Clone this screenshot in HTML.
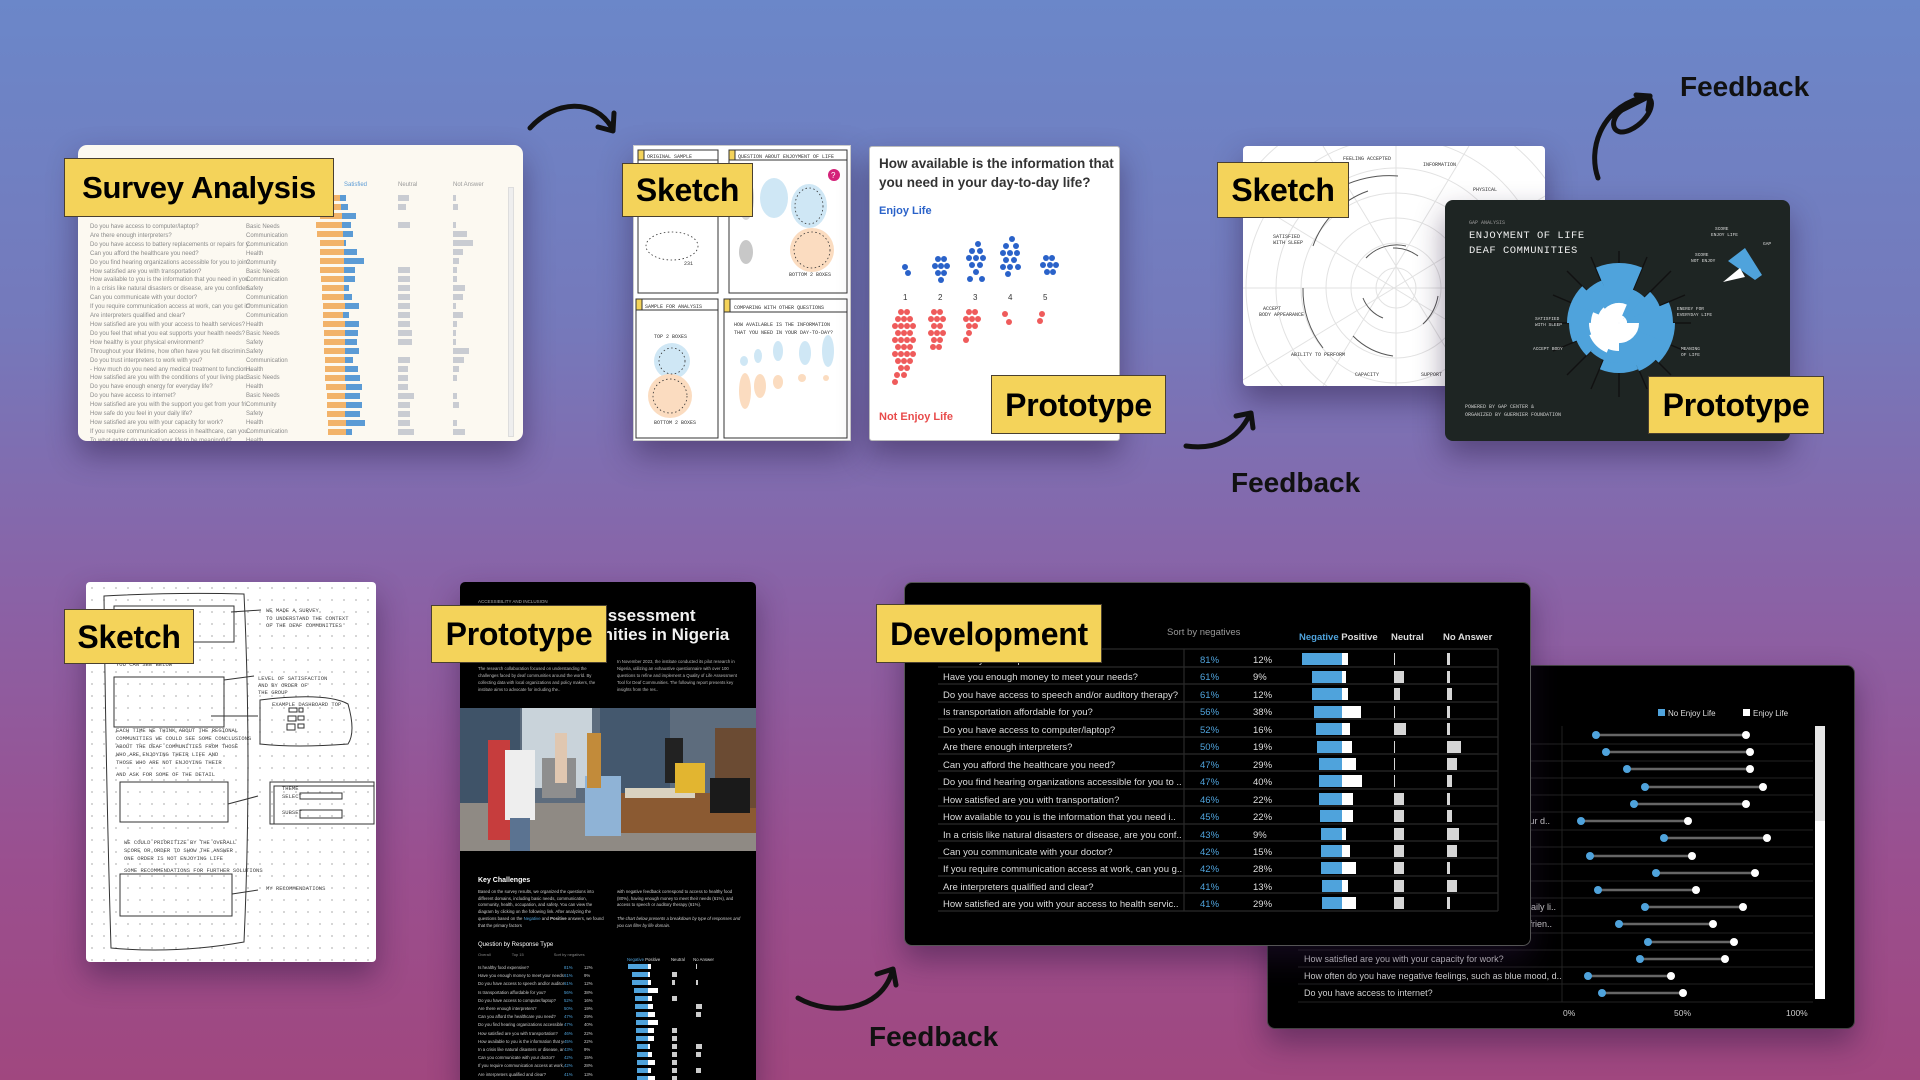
<!DOCTYPE html>
<html><head><meta charset="utf-8">
<style>
*{margin:0;padding:0;box-sizing:border-box}
html{width:1920px;height:1080px;overflow:hidden;background:#9a4f8f}
body{width:1920px;height:1080px;overflow:hidden;position:relative;font-family:"Liberation Sans",sans-serif;
background:linear-gradient(180deg,#6b87c9 0%,#7579bb 30%,#8a62a6 55%,#9a4f8f 80%,#a0477f 100%) no-repeat;background-size:1920px 1080px}
.card{position:absolute;overflow:hidden;box-shadow:0 14px 30px rgba(40,20,60,.45)}
.lbl{position:absolute;background:#f4d35a;border:1.5px solid #4a4030;color:#000;font-weight:bold;font-size:32px;line-height:1;display:flex;align-items:center;justify-content:center;z-index:20;letter-spacing:-0.3px}
.fb{position:absolute;font-weight:bold;font-size:28px;color:#111;z-index:20}
.abs{position:absolute}
.sv div{position:absolute;white-space:nowrap}
.q{font-size:6px;color:#8a8a8a}
.dv{position:absolute;white-space:nowrap}
</style></head><body>

<!-- ARROWS -->
<svg class="abs" style="left:0;top:0;z-index:15" width="1920" height="1080">
 <g fill="none" stroke="#111" stroke-width="5" stroke-linecap="round" stroke-linejoin="round">
  <path d="M530 128 C555 100 595 98 612 128"/><path d="M598 127 L613 131 L614 113"/>
  <path d="M1186 446 C1215 450 1238 440 1250 414"/><path d="M1236 416 L1251 413 L1253 428"/>
  <path d="M1598 178 C1588 150 1600 110 1640 98 C1660 92 1652 120 1630 130 C1612 138 1608 120 1622 110 L1650 96"/><path d="M1636 95 L1650 96 L1648 110"/>
  <path d="M798 998 C830 1016 880 1012 892 972"/><path d="M877 974 L893 969 L896 985"/>
 </g>
</svg>
<div class="fb" style="left:1680px;top:71px">Feedback</div>
<div class="fb" style="left:1231px;top:467px">Feedback</div>
<div class="fb" style="left:869px;top:1021px">Feedback</div>

<!-- SURVEY ANALYSIS CARD -->
<div class="card sv" style="left:78px;top:145px;width:445px;height:296px;background:#fcf9f1;border-radius:9px">
 <div style="left:266px;top:37px;font-size:6px;color:#5b9bd5">Satisfied</div>
 <div style="left:320px;top:37px;font-size:6px;color:#999">Neutral</div>
 <div style="left:375px;top:37px;font-size:6px;color:#999">Not Answer</div>
 <div style="left:430px;top:42px;width:6px;height:250px;background:#eee;border:1px solid #ddd"></div>
 <div style="left:12px;top:78px;line-height:8.9px" class="q">Do you have access to computer/laptop?<br>Are there enough interpreters?<br>Do you have access to battery replacements or repairs for y..<br>Can you afford the healthcare you need?<br>Do you find hearing organizations accessible for you to join?..<br>How satisfied are you with transportation?<br>How available to you is the information that you need in you..<br>In a crisis like natural disasters or disease, are you confiden..<br>Can you communicate with your doctor?<br>If you require communication access at work, can you get it?<br>Are interpreters qualified and clear?<br>How satisfied are you with your access to health services?<br>Do you feel that what you eat supports your health needs?<br>How healthy is your physical environment?<br>Throughout your lifetime, how often have you felt discrimin..<br>Do you trust interpreters to work with you?<br>- How much do you need any medical treatment to function i..<br>How satisfied are you with the conditions of your living plac..<br>Do you have enough energy for everyday life?<br>Do you have access to internet?<br>How satisfied are you with the support you get from your fri..<br>How safe do you feel in your daily life?<br>How satisfied are you with your capacity for work?<br>If you require communication access in healthcare, can you..<br>To what extent do you feel your life to be meaningful?</div>
 <div style="left:168px;top:78px;line-height:8.9px" class="q">Basic Needs<br>Communication<br>Communication<br>Health<br>Community<br>Basic Needs<br>Communication<br>Safety<br>Communication<br>Communication<br>Communication<br>Health<br>Basic Needs<br>Safety<br>Safety<br>Communication<br>Health<br>Basic Needs<br>Health<br>Basic Needs<br>Community<br>Safety<br>Health<br>Communication<br>Health</div>
 <svg class="abs" style="left:0;top:0" width="445" height="296">
  <rect x="240" y="50" width="22" height="6" fill="#f2b36a"/><rect x="262" y="50" width="6" height="6" fill="#5b9bd5"/>
  <rect x="241" y="59" width="22" height="6" fill="#f2b36a"/><rect x="263" y="59" width="7" height="6" fill="#5b9bd5"/>
  <rect x="242" y="68" width="22" height="6" fill="#f2b36a"/><rect x="264" y="68" width="14" height="6" fill="#5b9bd5"/>
  <g fill="#f2b36a">
   <rect x="238" y="77" width="26" height="6"/><rect x="239" y="86" width="26" height="6"/><rect x="242" y="95" width="24" height="6"/><rect x="242" y="104" width="24" height="6"/><rect x="242" y="113" width="24" height="6"/><rect x="242" y="122" width="24" height="6"/><rect x="243" y="131" width="23" height="6"/><rect x="244" y="140" width="22" height="6"/><rect x="244" y="149" width="22" height="6"/><rect x="245" y="158" width="22" height="6"/><rect x="245" y="167" width="20" height="6"/><rect x="245" y="176" width="22" height="6"/><rect x="246" y="185" width="21" height="6"/><rect x="246" y="194" width="21" height="6"/><rect x="246" y="203" width="21" height="6"/><rect x="247" y="212" width="20" height="6"/><rect x="247" y="221" width="20" height="6"/><rect x="247" y="230" width="20" height="6"/><rect x="248" y="239" width="20" height="6"/><rect x="249" y="248" width="18" height="6"/><rect x="249" y="257" width="19" height="6"/><rect x="249" y="266" width="18" height="6"/><rect x="250" y="275" width="18" height="6"/><rect x="250" y="284" width="18" height="6"/>
  </g>
  <g fill="#5b9bd5">
   <rect x="264" y="77" width="9" height="6"/><rect x="265" y="86" width="10" height="6"/><rect x="266" y="95" width="2" height="6"/><rect x="266" y="104" width="13" height="6"/><rect x="266" y="113" width="20" height="6"/><rect x="266" y="122" width="11" height="6"/><rect x="266" y="131" width="11" height="6"/><rect x="266" y="140" width="5" height="6"/><rect x="266" y="149" width="8" height="6"/><rect x="267" y="158" width="14" height="6"/><rect x="265" y="167" width="6" height="6"/><rect x="267" y="176" width="14" height="6"/><rect x="267" y="185" width="13" height="6"/><rect x="267" y="194" width="12" height="6"/><rect x="267" y="203" width="14" height="6"/><rect x="267" y="212" width="8" height="6"/><rect x="267" y="221" width="13" height="6"/><rect x="267" y="230" width="15" height="6"/><rect x="268" y="239" width="16" height="6"/><rect x="267" y="248" width="15" height="6"/><rect x="268" y="257" width="16" height="6"/><rect x="267" y="266" width="15" height="6"/><rect x="268" y="275" width="19" height="6"/><rect x="268" y="284" width="6" height="6"/>
  </g>
  <g fill="#c9ccd2">
   <rect x="320" y="50" width="11" height="6"/><rect x="320" y="59" width="8" height="6"/><rect x="320" y="77" width="12" height="6"/><rect x="320" y="122" width="12" height="6"/><rect x="320" y="131" width="12" height="6"/><rect x="320" y="140" width="12" height="6"/><rect x="320" y="149" width="12" height="6"/><rect x="320" y="158" width="12" height="6"/><rect x="320" y="167" width="12" height="6"/><rect x="320" y="176" width="12" height="6"/><rect x="320" y="185" width="14" height="6"/><rect x="320" y="194" width="14" height="6"/><rect x="320" y="212" width="12" height="6"/><rect x="320" y="221" width="10" height="6"/><rect x="320" y="230" width="10" height="6"/><rect x="320" y="239" width="10" height="6"/><rect x="320" y="248" width="16" height="6"/><rect x="320" y="257" width="12" height="6"/><rect x="320" y="266" width="12" height="6"/><rect x="320" y="275" width="12" height="6"/><rect x="320" y="284" width="16" height="6"/>
   <rect x="375" y="50" width="3" height="6"/><rect x="375" y="59" width="5" height="6"/><rect x="375" y="77" width="3" height="6"/><rect x="375" y="86" width="14" height="6"/><rect x="375" y="95" width="20" height="6"/><rect x="375" y="104" width="10" height="6"/><rect x="375" y="113" width="6" height="6"/><rect x="375" y="122" width="4" height="6"/><rect x="375" y="131" width="4" height="6"/><rect x="375" y="140" width="12" height="6"/><rect x="375" y="149" width="10" height="6"/><rect x="375" y="158" width="3" height="6"/><rect x="375" y="167" width="10" height="6"/><rect x="375" y="176" width="4" height="6"/><rect x="375" y="185" width="3" height="6"/><rect x="375" y="194" width="3" height="6"/><rect x="375" y="203" width="16" height="6"/><rect x="375" y="212" width="11" height="6"/><rect x="375" y="221" width="6" height="6"/><rect x="375" y="230" width="4" height="6"/><rect x="375" y="248" width="4" height="6"/><rect x="375" y="257" width="6" height="6"/><rect x="375" y="275" width="4" height="6"/><rect x="375" y="284" width="12" height="6"/>
  </g>
 </svg>
</div>
<div class="lbl" style="left:64px;top:158px;width:270px;height:59px;font-size:31px">Survey Analysis</div>

<!-- SKETCH 4-PANEL -->
<div class="card" style="left:633px;top:145px;width:218px;height:296px;background:#fff;border:1px solid #ccc">
 <svg width="218" height="296" style="position:absolute;left:0;top:0">
  <g fill="none" stroke="#333" stroke-width="1">
   <rect x="4" y="4" width="80" height="143"/><rect x="95" y="4" width="118" height="143"/>
   <rect x="2" y="153" width="82" height="139"/><rect x="90" y="153" width="123" height="139"/>
   <line x1="4" y1="14" x2="84" y2="14"/><line x1="95" y1="14" x2="213" y2="14"/><line x1="2" y1="164" x2="84" y2="164"/><line x1="90" y1="166" x2="213" y2="166"/>
  </g>
  <g fill="#f4d35a" stroke="#333"><rect x="4" y="4" width="6" height="10"/><rect x="95" y="4" width="6" height="10"/><rect x="2" y="153" width="6" height="11"/><rect x="90" y="153" width="6" height="13"/></g>
  <g font-size="5" fill="#333" font-family="Liberation Mono"><text x="13" y="12">ORIGINAL SAMPLE</text><text x="104" y="12">QUESTION ABOUT ENJOYMENT OF LIFE</text><text x="11" y="162">SAMPLE FOR ANALYSIS</text><text x="100" y="163">COMPARING WITH OTHER QUESTIONS</text><text x="100" y="180">HOW AVAILABLE IS THE INFORMATION</text><text x="100" y="188">THAT YOU NEED IN YOUR DAY-TO-DAY?</text><text x="20" y="192">TOP 2 BOXES</text><text x="20" y="278">BOTTOM 2 BOXES</text><text x="155" y="130">BOTTOM 2 BOXES</text><text x="50" y="119">231</text></g>
  <ellipse cx="140" cy="52" rx="14" ry="20" fill="#cfe7f5"/>
  <ellipse cx="175" cy="60" rx="18" ry="22" fill="#cfe7f5"/><ellipse cx="178" cy="104" rx="22" ry="22" fill="#fbdcc0"/>
  <ellipse cx="112" cy="52" rx="8" ry="22" fill="#d6d6d6"/><ellipse cx="112" cy="106" rx="7" ry="12" fill="#c8c8c8"/>
  <ellipse cx="38" cy="215" rx="18" ry="18" fill="#cfe7f5"/><ellipse cx="36" cy="250" rx="22" ry="22" fill="#fbdcc0"/>
  <g fill="#cfe7f5"><ellipse cx="110" cy="215" rx="4" ry="5"/><ellipse cx="124" cy="210" rx="4" ry="7"/><ellipse cx="144" cy="205" rx="5" ry="10"/><ellipse cx="171" cy="207" rx="6" ry="12"/><ellipse cx="194" cy="205" rx="6" ry="16"/></g>
  <g fill="#fbdcc0"><ellipse cx="111" cy="245" rx="6" ry="18"/><ellipse cx="126" cy="240" rx="6" ry="12"/><ellipse cx="144" cy="236" rx="5" ry="7"/><ellipse cx="168" cy="232" rx="4" ry="4"/><ellipse cx="192" cy="232" rx="3" ry="3"/></g>
  <g fill="none" stroke="#333" stroke-width=".8" stroke-dasharray="1.5 2.5"><ellipse cx="38" cy="100" rx="26" ry="14"/><ellipse cx="175" cy="60" rx="14" ry="18"/><ellipse cx="178" cy="104" rx="18" ry="18"/><ellipse cx="38" cy="215" rx="13" ry="13"/><ellipse cx="36" cy="250" rx="17" ry="17"/></g>
  <circle cx="200" cy="29" r="6" fill="#d4237a"/><text x="197" y="32" font-size="8" fill="#fff">?</text>
 </svg>
</div>
<div class="lbl" style="left:622px;top:163px;width:131px;height:54px">Sketch</div>

<!-- PROTOTYPE DOT PLOT -->
<div class="card" style="left:869px;top:146px;width:251px;height:295px;background:#fff;border:1px solid #bbb;border-radius:3px">
 <div class="abs" style="left:9px;top:7px;font-size:13.5px;color:#333;line-height:19px;font-weight:bold;width:240px">How available is the information that you need in your day-to-day life?</div>
 <div class="abs" style="left:9px;top:58px;font-size:11px;color:#2a62c9;font-weight:bold">Enjoy Life</div>
 <div class="abs" style="left:9px;top:264px;font-size:11px;color:#e84b4b;font-weight:bold">Not Enjoy Life</div>
 <svg width="251" height="295" style="position:absolute;left:0;top:0">
  <g fill="#2a62c9">
   <circle cx="35" cy="120" r="3"/><circle cx="38" cy="126" r="3"/>
   <circle cx="68" cy="112" r="3"/><circle cx="74" cy="112" r="3"/><circle cx="65" cy="119" r="3"/><circle cx="71" cy="119" r="3"/><circle cx="77" cy="119" r="3"/><circle cx="68" cy="126" r="3"/><circle cx="74" cy="126" r="3"/><circle cx="71" cy="133" r="3"/>
   <circle cx="108" cy="97" r="3"/><circle cx="102" cy="104" r="3"/><circle cx="110" cy="104" r="3"/><circle cx="99" cy="111" r="3"/><circle cx="106" cy="111" r="3"/><circle cx="113" cy="111" r="3"/><circle cx="102" cy="118" r="3"/><circle cx="110" cy="118" r="3"/><circle cx="106" cy="125" r="3"/><circle cx="100" cy="132" r="3"/><circle cx="112" cy="132" r="3"/>
   <circle cx="142" cy="92" r="3"/><circle cx="136" cy="99" r="3"/><circle cx="146" cy="99" r="3"/><circle cx="133" cy="106" r="3"/><circle cx="140" cy="106" r="3"/><circle cx="147" cy="106" r="3"/><circle cx="136" cy="113" r="3"/><circle cx="144" cy="113" r="3"/><circle cx="133" cy="120" r="3"/><circle cx="140" cy="120" r="3"/><circle cx="148" cy="120" r="3"/><circle cx="138" cy="127" r="3"/>
   <circle cx="176" cy="111" r="3"/><circle cx="182" cy="111" r="3"/><circle cx="173" cy="118" r="3"/><circle cx="180" cy="118" r="3"/><circle cx="186" cy="118" r="3"/><circle cx="177" cy="125" r="3"/><circle cx="183" cy="125" r="3"/>
  </g>
  <g font-size="8" fill="#333"><text x="33" y="153">1</text><text x="68" y="153">2</text><text x="103" y="153">3</text><text x="138" y="153">4</text><text x="173" y="153">5</text></g>
  <g fill="#ef5b5b">
   <circle cx="31" cy="165" r="3"/><circle cx="37" cy="165" r="3"/><circle cx="28" cy="172" r="3"/><circle cx="34" cy="172" r="3"/><circle cx="40" cy="172" r="3"/><circle cx="25" cy="179" r="3"/><circle cx="31" cy="179" r="3"/><circle cx="37" cy="179" r="3"/><circle cx="43" cy="179" r="3"/><circle cx="28" cy="186" r="3"/><circle cx="34" cy="186" r="3"/><circle cx="40" cy="186" r="3"/><circle cx="25" cy="193" r="3"/><circle cx="31" cy="193" r="3"/><circle cx="37" cy="193" r="3"/><circle cx="43" cy="193" r="3"/><circle cx="28" cy="200" r="3"/><circle cx="34" cy="200" r="3"/><circle cx="40" cy="200" r="3"/><circle cx="25" cy="207" r="3"/><circle cx="31" cy="207" r="3"/><circle cx="37" cy="207" r="3"/><circle cx="43" cy="207" r="3"/><circle cx="28" cy="214" r="3"/><circle cx="34" cy="214" r="3"/><circle cx="40" cy="214" r="3"/><circle cx="31" cy="221" r="3"/><circle cx="37" cy="221" r="3"/><circle cx="27" cy="228" r="3"/><circle cx="34" cy="228" r="3"/><circle cx="25" cy="235" r="3"/>
   <circle cx="64" cy="165" r="3"/><circle cx="70" cy="165" r="3"/><circle cx="61" cy="172" r="3"/><circle cx="67" cy="172" r="3"/><circle cx="73" cy="172" r="3"/><circle cx="64" cy="179" r="3"/><circle cx="70" cy="179" r="3"/><circle cx="61" cy="186" r="3"/><circle cx="67" cy="186" r="3"/><circle cx="73" cy="186" r="3"/><circle cx="64" cy="193" r="3"/><circle cx="70" cy="193" r="3"/><circle cx="63" cy="200" r="3"/><circle cx="69" cy="200" r="3"/>
   <circle cx="99" cy="165" r="3"/><circle cx="105" cy="165" r="3"/><circle cx="96" cy="172" r="3"/><circle cx="102" cy="172" r="3"/><circle cx="108" cy="172" r="3"/><circle cx="99" cy="179" r="3"/><circle cx="105" cy="179" r="3"/><circle cx="99" cy="186" r="3"/><circle cx="96" cy="193" r="3"/>
   <circle cx="135" cy="167" r="3"/><circle cx="139" cy="175" r="3"/><circle cx="172" cy="167" r="3"/><circle cx="170" cy="174" r="3"/>
  </g>
 </svg>
</div>
<div class="lbl" style="left:991px;top:375px;width:175px;height:59px">Prototype</div>

<!-- POLAR SKETCH -->
<div class="card" style="left:1243px;top:146px;width:302px;height:240px;background:#fff;border-radius:4px">
 <svg width="302" height="240" style="position:absolute;left:0;top:0">
  <g fill="none" stroke="#e2e2e2" stroke-width="1">
   <circle cx="153" cy="142" r="20"/><circle cx="153" cy="142" r="45"/><circle cx="153" cy="142" r="70"/><circle cx="153" cy="142" r="95"/><circle cx="153" cy="142" r="120"/><circle cx="153" cy="142" r="150"/><circle cx="153" cy="142" r="185"/>
   <line x1="153" y1="0" x2="153" y2="240"/><line x1="0" y1="142" x2="302" y2="142"/><line x1="0" y1="50" x2="302" y2="234"/><line x1="0" y1="234" x2="302" y2="50"/><line x1="80" y1="0" x2="226" y2="240"/><line x1="226" y1="0" x2="80" y2="240"/>
  </g>
  <g fill="none" stroke="#555" stroke-width="1">
   <path d="M153 142 m-30 -30 a42 42 0 0 1 40 -12"/><path d="M70 100 a90 90 0 0 1 55 -55"/><path d="M60 142 a93 93 0 0 0 20 60"/><path d="M110 190 a70 70 0 0 0 40 20"/><path d="M180 178 a50 50 0 0 0 15 -28"/><path d="M150 102 a40 40 0 0 1 25 8"/><path d="M120 152 a35 35 0 0 0 20 20"/><path d="M100 40 a110 110 0 0 1 55 -10"/>
  </g>
  <g font-size="5" fill="#333" font-family="Liberation Mono"><text x="100" y="14">FEELING ACCEPTED</text><text x="180" y="20">INFORMATION</text><text x="230" y="45">PHYSICAL</text><text x="30" y="92">SATISFIED</text><text x="30" y="98">WITH SLEEP</text><text x="20" y="164">ACCEPT</text><text x="16" y="170">BODY APPEARANCE</text><text x="48" y="210">ABILITY TO PERFORM</text><text x="112" y="230">CAPACITY</text><text x="178" y="230">SUPPORT FROM</text></g>
 </svg>
</div>
<div class="lbl" style="left:1217px;top:162px;width:132px;height:56px">Sketch</div>

<!-- DARK POLAR PROTOTYPE -->
<div class="card" style="left:1445px;top:200px;width:345px;height:241px;background:#1e2523;border-radius:8px">
 <div class="abs" style="left:24px;top:20px;font-size:5px;color:#999;font-family:'Liberation Mono'">GAP ANALYSIS</div>
 <div class="abs" style="left:24px;top:29px;font-size:10.5px;color:#eee;font-family:'Liberation Mono';line-height:15px;letter-spacing:.5px">ENJOYMENT OF LIFE<br>DEAF COMMUNITIES</div>
 <div class="abs" style="left:20px;top:203px;font-size:5px;color:#ccc;font-family:'Liberation Mono';line-height:8px">POWERED BY GAP CENTER &amp;<br>ORGANIZED BY GUERNIER FOUNDATION</div>
 <svg width="345" height="241" style="position:absolute;left:0;top:0">
  <g transform="translate(174 123)">
   <g stroke="#111" stroke-width="1.4">
    <line x1="0" y1="-72" x2="0" y2="74"/><line x1="-70" y1="0" x2="72" y2="0"/><line x1="-52" y1="-52" x2="52" y2="52"/><line x1="52" y1="-52" x2="-52" y2="52"/><line x1="-28" y1="-66" x2="28" y2="66"/><line x1="28" y1="-66" x2="-28" y2="66"/><line x1="-66" y1="-28" x2="66" y2="28"/><line x1="66" y1="-28" x2="-66" y2="28"/>
   </g>
   <g fill="none" stroke="#4fa3dc">
    <circle r="18" stroke-width="36" stroke-dasharray="14.1 999" transform="rotate(-90)"/>
    <circle r="18" stroke-width="36" stroke-dasharray="14.1 999" transform="rotate(-67.5)"/>
    <circle r="22" stroke-width="44" stroke-dasharray="17.3 999" transform="rotate(-45)"/>
    <circle r="27" stroke-width="54" stroke-dasharray="21.2 999" transform="rotate(-22.5)"/>
    <circle r="28" stroke-width="56" stroke-dasharray="22 999" transform="rotate(0)"/>
    <circle r="26" stroke-width="52" stroke-dasharray="20.4 999" transform="rotate(22.5)"/>
    <circle r="23" stroke-width="46" stroke-dasharray="18.1 999" transform="rotate(45)"/>
    <circle r="25" stroke-width="50" stroke-dasharray="19.6 999" transform="rotate(67.5)"/>
    <circle r="20" stroke-width="40" stroke-dasharray="15.7 999" transform="rotate(90)"/>
    <circle r="19" stroke-width="38" stroke-dasharray="14.9 999" transform="rotate(112.5)"/>
    <circle r="23" stroke-width="46" stroke-dasharray="18.1 999" transform="rotate(135)"/>
    <circle r="25" stroke-width="50" stroke-dasharray="19.6 999" transform="rotate(157.5)"/>
    <circle r="26" stroke-width="52" stroke-dasharray="20.4 999" transform="rotate(180)"/>
    <circle r="23" stroke-width="46" stroke-dasharray="18.1 999" transform="rotate(202.5)"/>
    <circle r="20" stroke-width="40" stroke-dasharray="15.7 999" transform="rotate(225)"/>
    <circle r="30" stroke-width="60" stroke-dasharray="23.6 999" transform="rotate(247.5)"/>
   </g>
   <g fill="none" stroke="#fff">
    <circle r="4" stroke-width="8" stroke-dasharray="3.1 999" transform="rotate(-90)"/>
    <circle r="3" stroke-width="6" stroke-dasharray="2.4 999" transform="rotate(-67.5)"/>
    <circle r="4" stroke-width="8" stroke-dasharray="3.1 999" transform="rotate(-45)"/>
    <circle r="4" stroke-width="8" stroke-dasharray="3.1 999" transform="rotate(-22.5)"/>
    <circle r="10" stroke-width="20" stroke-dasharray="7.9 999" transform="rotate(0)"/>
    <circle r="8" stroke-width="16" stroke-dasharray="6.3 999" transform="rotate(22.5)"/>
    <circle r="10" stroke-width="20" stroke-dasharray="7.9 999" transform="rotate(45)"/>
    <circle r="10" stroke-width="20" stroke-dasharray="7.9 999" transform="rotate(67.5)"/>
    <circle r="14" stroke-width="28" stroke-dasharray="11 999" transform="rotate(90)"/>
    <circle r="16" stroke-width="32" stroke-dasharray="12.6 999" transform="rotate(112.5)"/>
    <circle r="15" stroke-width="30" stroke-dasharray="11.8 999" transform="rotate(135)"/>
    <circle r="14" stroke-width="28" stroke-dasharray="11 999" transform="rotate(157.5)"/>
    <circle r="11" stroke-width="22" stroke-dasharray="8.6 999" transform="rotate(180)"/>
    <circle r="10" stroke-width="20" stroke-dasharray="7.9 999" transform="rotate(202.5)"/>
    <circle r="10" stroke-width="20" stroke-dasharray="7.9 999" transform="rotate(225)"/>
    <circle r="10" stroke-width="20" stroke-dasharray="7.9 999" transform="rotate(247.5)"/>
   </g>
  </g>
  <path d="M283 61 L300 48 L317 75 L310 80 Z" fill="#4fa3dc"/><path d="M278 82 L295 68 L300 77 Z" fill="#fff"/>
  <g font-size="4.5" fill="#ddd" font-family="Liberation Mono"><text x="270" y="30">SCORE</text><text x="266" y="36">ENJOY LIFE</text><text x="250" y="56">SCORE</text><text x="246" y="62">NOT ENJOY</text><text x="318" y="45">GAP</text><text x="232" y="110">ENERGY FOR</text><text x="232" y="116">EVERYDAY LIFE</text><text x="90" y="120">SATISFIED</text><text x="90" y="126">WITH SLEEP</text><text x="88" y="150">ACCEPT BODY</text><text x="236" y="150">MEANING</text><text x="236" y="156">OF LIFE</text></g>
 </svg>
</div>
<div class="lbl" style="left:1648px;top:376px;width:176px;height:58px">Prototype</div>

<!-- BOTTOM SKETCH -->
<div class="card" style="left:86px;top:582px;width:290px;height:380px;background:#fff;border-radius:4px;background-image:radial-gradient(circle,#bbb 0.7px,transparent 1px);background-size:12px 12px">
 <svg width="290" height="380" style="position:absolute;left:0;top:0">
  <g fill="none" stroke="#333" stroke-width="1">
   <path d="M18 14 Q90 10 158 12 Q166 180 158 360 Q90 372 25 366 Q20 200 18 14Z"/>
   <rect x="28" y="24" width="120" height="36"/>
   <rect x="28" y="95" width="110" height="50"/>
   <rect x="34" y="200" width="108" height="40"/>
   <rect x="34" y="292" width="112" height="42"/>
   <path d="M145 30 L175 28"/><path d="M138 98 L168 94"/><path d="M125 134 L172 134"/><path d="M142 222 L172 214"/><path d="M146 312 L172 308"/>
   <path d="M174 118 Q240 110 262 122 Q270 150 262 162 Q210 166 174 162 Z"/>
   <rect x="184" y="200" width="104" height="42"/><rect x="188" y="204" width="100" height="38"/>
   <rect x="214" y="228" width="42" height="8"/><rect x="214" y="211" width="42" height="6"/>
   <rect x="203" y="126" width="8" height="4"/><rect x="213" y="126" width="4" height="4"/><rect x="202" y="134" width="8" height="5"/><rect x="212" y="134" width="6" height="4"/><rect x="201" y="142" width="8" height="6"/><rect x="212" y="142" width="6" height="4"/>
  </g>
  <g font-size="5.5" fill="#444" font-family="Liberation Mono">
   <text x="180" y="30">WE MADE A SURVEY</text><text x="180" y="38">TO UNDERSTAND THE CONTEXT</text><text x="180" y="45">OF THE DEAF COMMUNITIES</text>
   <text x="172" y="98">LEVEL OF SATISFACTION</text><text x="172" y="105">AND BY ORDER OF</text><text x="172" y="112">THE GROUP</text><text x="186" y="124">EXAMPLE DASHBOARD TOP</text>
   <text x="196" y="208">THEME</text><text x="196" y="216">SELECT</text><text x="196" y="232">SUBSET</text>
   <text x="30" y="150">EACH TIME WE THINK ABOUT THE REGIONAL</text><text x="30" y="158">COMMUNITIES WE COULD SEE SOME CONCLUSIONS</text><text x="30" y="166">ABOUT THE DEAF COMMUNITIES FROM THOSE</text><text x="30" y="174">WHO ARE ENJOYING THEIR LIFE AND</text><text x="30" y="182">THOSE WHO ARE NOT ENJOYING THEIR</text><text x="30" y="194">AND ASK FOR SOME OF THE DETAIL</text>
   <text x="38" y="262">WE COULD PRIORITIZE BY THE OVERALL</text><text x="38" y="270">SCORE OR ORDER TO SHOW THE ANSWER</text><text x="38" y="278">ONE ORDER IS NOT ENJOYING LIFE</text>
   <text x="38" y="290">SOME RECOMMENDATIONS FOR FURTHER SOLUTIONS</text><text x="180" y="308">MY RECOMMENDATIONS</text><text x="30" y="84">YOU CAN SEE BELOW</text>
  </g>
 </svg>
</div>
<div class="lbl" style="left:64px;top:609px;width:130px;height:55px">Sketch</div>

<!-- REPORT PROTOTYPE -->
<div class="card" style="left:460px;top:582px;width:296px;height:510px;background:#000;border-radius:5px 5px 0 0">
 <div class="abs" style="left:18px;top:17px;font-size:4.5px;color:#aaa">ACCESSIBILITY AND INCLUSION</div>
 <div class="abs" style="left:18px;top:24px;font-size:17px;color:#f2f2f2;font-weight:bold;line-height:19px;white-space:nowrap">Quality of Life Assessment<br>in Deaf Communities in Nigeria</div>
 <div class="abs" style="left:18px;top:83px;width:130px;font-size:4.3px;color:#bbb;line-height:7px">The research collaboration focused on understanding the challenges faced by deaf communities around the world. By collecting data with local organizations and policy makers, the institute aims to advocate for including the..</div>
 <div class="abs" style="left:157px;top:76px;width:125px;font-size:4.3px;color:#bbb;line-height:7px">In November 2023, the institute conducted its pilot research in Nigeria, utilizing an exhaustive questionnaire with over 100 questions to refine and implement a Quality of Life Assessment Tool for Deaf Communities. The following report presents key insights from the res..</div>
 <svg class="abs" style="left:0;top:126px" width="296" height="143">
  <rect width="296" height="143" fill="#5d6c7d"/>
  <rect x="0" y="0" width="60" height="143" fill="#3f5368"/><rect x="140" y="0" width="70" height="100" fill="#44586e"/>
  <rect x="62" y="0" width="70" height="80" fill="#c9d3da"/>
  <rect x="0" y="95" width="296" height="48" fill="#8f8a84"/>
  <rect x="160" y="85" width="136" height="40" fill="#8b5a32"/><rect x="165" y="80" width="70" height="10" fill="#d9d2c0"/>
  <rect x="255" y="20" width="41" height="80" fill="#6b4b33"/>
  <rect x="28" y="32" width="22" height="100" fill="#c63d3d"/><rect x="45" y="42" width="30" height="70" fill="#eeeeee"/><rect x="50" y="110" width="20" height="33" fill="#5b7391"/>
  <rect x="82" y="50" width="34" height="40" fill="#8e8e8e"/><rect x="125" y="68" width="36" height="60" fill="#8fb3d6"/>
  <rect x="127" y="25" width="14" height="55" fill="#c28b3a"/><rect x="205" y="30" width="18" height="45" fill="#222"/>
  <rect x="215" y="55" width="30" height="30" fill="#e2b530"/><rect x="95" y="25" width="12" height="50" fill="#e0c7b0"/>
  <rect x="250" y="70" width="40" height="35" fill="#1a1a1a"/>
 </svg>
 <div class="abs" style="left:18px;top:295px;font-size:7px;color:#fff;font-weight:bold">Key Challenges</div>
 <div class="abs" style="left:18px;top:307px;width:130px;font-size:4.3px;color:#ccc;line-height:6.7px">Based on the survey results, we organized the questions into different domains, including basic needs, communication, community, health, occupation, and safety. You can view the diagram by clicking on the following link. After analyzing the questions based on the <span style="color:#4fa3dc">Negative</span> and <b>Positive</b> answers, we found that the primary factors</div>
 <div class="abs" style="left:157px;top:307px;width:125px;font-size:4.3px;color:#ccc;line-height:6.7px">with negative feedback correspond to access to healthy food (80%), having enough money to meet their needs (61%), and access to speech or auditory therapy (61%).<br><br><i>The chart below presents a breakdown by type of responses and you can filter by life domain.</i></div>
 <div class="abs" style="left:18px;top:360px;font-size:6px;color:#fff">Question by Response Type</div>
 <div class="abs" style="left:18px;top:370px;font-size:4px;color:#888">Overall &nbsp; &nbsp; &nbsp; &nbsp; &nbsp; &nbsp; &nbsp; &nbsp; &nbsp; Top 15 &nbsp; &nbsp; &nbsp; &nbsp; &nbsp; &nbsp; &nbsp; &nbsp; &nbsp; &nbsp; &nbsp; &nbsp; &nbsp; Sort by negatives</div>
 <div class="abs" style="left:167px;top:375px;font-size:4.3px;color:#ddd"><span style="color:#4fa3dc">Negative</span> Positive &nbsp; &nbsp; &nbsp; &nbsp; Neutral &nbsp; &nbsp; &nbsp; No Answer</div>
 <div class="abs" style="left:18px;top:382px;width:86px;overflow:hidden;white-space:nowrap;font-size:4.3px;color:#ccc;line-height:8.2px">
  Is healthy food expensive?<br>Have you enough money to meet your needs?<br>Do you have access to speech and/or auditory therapy?<br>Is transportation affordable for you?<br>Do you have access to computer/laptop?<br>Are there enough interpreters?<br>Can you afford the healthcare you need?<br>Do you find hearing organizations accessible for you to ..<br>How satisfied are you with transportation?<br>How available to you is the information that you need i..<br>In a crisis like natural disasters or disease, are you conf..<br>Can you communicate with your doctor?<br>If you require communication access at work, can you g..<br>Are interpreters qualified and clear?<br>How satisfied are you with your access to health servic..</div>
 <div class="abs" style="left:104px;top:382px;font-size:4.3px;color:#4fa3dc;line-height:8.2px">81%<br>61%<br>61%<br>56%<br>52%<br>50%<br>47%<br>47%<br>46%<br>45%<br>43%<br>42%<br>42%<br>41%<br>41%</div>
 <div class="abs" style="left:124px;top:382px;font-size:4.3px;color:#ccc;line-height:8.2px">12%<br>9%<br>12%<br>38%<br>16%<br>19%<br>29%<br>40%<br>22%<br>22%<br>9%<br>15%<br>28%<br>13%<br>29%</div>
 <svg class="abs" style="left:0;top:380px" width="296" height="130">
  <g fill="#4fa3dc"><rect x="168" y="2" width="20" height="5"/><rect x="172" y="10" width="16" height="5"/><rect x="172" y="18" width="16" height="5"/><rect x="174" y="26" width="14" height="5"/><rect x="175" y="34" width="13" height="5"/><rect x="175" y="42" width="13" height="5"/><rect x="176" y="50" width="12" height="5"/><rect x="176" y="58" width="12" height="5"/><rect x="176" y="66" width="12" height="5"/><rect x="176" y="74" width="12" height="5"/><rect x="177" y="82" width="11" height="5"/><rect x="177" y="90" width="11" height="5"/><rect x="177" y="98" width="11" height="5"/><rect x="177" y="106" width="11" height="5"/><rect x="177" y="114" width="11" height="5"/></g>
  <g fill="#fff"><rect x="188" y="2" width="3" height="5"/><rect x="188" y="10" width="2" height="5"/><rect x="188" y="18" width="3" height="5"/><rect x="188" y="26" width="10" height="5"/><rect x="188" y="34" width="4" height="5"/><rect x="188" y="42" width="5" height="5"/><rect x="188" y="50" width="7" height="5"/><rect x="188" y="58" width="10" height="5"/><rect x="188" y="66" width="6" height="5"/><rect x="188" y="74" width="6" height="5"/><rect x="188" y="82" width="2" height="5"/><rect x="188" y="90" width="4" height="5"/><rect x="188" y="98" width="7" height="5"/><rect x="188" y="106" width="3" height="5"/><rect x="188" y="114" width="7" height="5"/></g>
  <g fill="#ccc"><rect x="212" y="10" width="5" height="5"/><rect x="212" y="18" width="3" height="5"/><rect x="212" y="34" width="5" height="5"/><rect x="212" y="66" width="5" height="5"/><rect x="212" y="74" width="5" height="5"/><rect x="212" y="82" width="5" height="5"/><rect x="212" y="90" width="5" height="5"/><rect x="212" y="98" width="5" height="5"/><rect x="212" y="106" width="5" height="5"/><rect x="212" y="114" width="5" height="5"/><rect x="236" y="42" width="6" height="5"/><rect x="236" y="50" width="5" height="5"/><rect x="236" y="82" width="6" height="5"/><rect x="236" y="90" width="5" height="5"/><rect x="236" y="106" width="5" height="5"/><rect x="236" y="2" width="1" height="5"/><rect x="236" y="18" width="2" height="5"/></g>
 </svg>
</div>
<div class="lbl" style="left:431px;top:605px;width:176px;height:58px">Prototype</div>

<!-- SECOND DARK (DUMBBELL) CARD -->
<div class="card" style="left:1267px;top:665px;width:588px;height:364px;background:#000;border:1px solid #444;border-radius:8px">
 <svg width="588" height="364" style="position:absolute;left:0;top:0">
  <rect x="390" y="43" width="7" height="7" fill="#4fa3dc"/><text x="400" y="50" font-size="8" fill="#ddd">No Enjoy Life</text>
  <rect x="475" y="43" width="7" height="7" fill="#fff"/><text x="485" y="50" font-size="8" fill="#ddd">Enjoy Life</text>
  <rect x="547" y="60" width="10" height="273" fill="#fff"/><rect x="547" y="60" width="10" height="95" fill="#e6e6e6"/>
  <g stroke="#222" stroke-width="1">
   <line x1="30" y1="78" x2="545" y2="78"/><line x1="30" y1="95" x2="545" y2="95"/><line x1="30" y1="112" x2="545" y2="112"/><line x1="30" y1="129" x2="545" y2="129"/><line x1="30" y1="146" x2="545" y2="146"/><line x1="30" y1="164" x2="545" y2="164"/><line x1="30" y1="181" x2="545" y2="181"/><line x1="30" y1="198" x2="545" y2="198"/><line x1="30" y1="215" x2="545" y2="215"/><line x1="30" y1="232" x2="545" y2="232"/><line x1="30" y1="250" x2="545" y2="250"/><line x1="30" y1="267" x2="545" y2="267"/><line x1="30" y1="284" x2="545" y2="284"/><line x1="30" y1="301" x2="545" y2="301"/><line x1="30" y1="318" x2="545" y2="318"/><line x1="30" y1="336" x2="545" y2="336"/>
   <line x1="294" y1="60" x2="294" y2="336"/>
  </g>
  <g stroke="#666" stroke-width="2.5">
   <line x1="328" y1="69" x2="478" y2="69"/><line x1="338" y1="86" x2="482" y2="86"/><line x1="359" y1="103" x2="482" y2="103"/><line x1="377" y1="121" x2="495" y2="121"/><line x1="366" y1="138" x2="478" y2="138"/><line x1="313" y1="155" x2="420" y2="155"/><line x1="396" y1="172" x2="499" y2="172"/><line x1="322" y1="190" x2="424" y2="190"/><line x1="388" y1="207" x2="487" y2="207"/><line x1="330" y1="224" x2="428" y2="224"/><line x1="377" y1="241" x2="475" y2="241"/><line x1="351" y1="258" x2="445" y2="258"/><line x1="380" y1="276" x2="466" y2="276"/><line x1="372" y1="293" x2="457" y2="293"/><line x1="320" y1="310" x2="403" y2="310"/><line x1="334" y1="327" x2="415" y2="327"/>
  </g>
  <g fill="#4fa3dc"><circle cx="328" cy="69" r="4"/><circle cx="338" cy="86" r="4"/><circle cx="359" cy="103" r="4"/><circle cx="377" cy="121" r="4"/><circle cx="366" cy="138" r="4"/><circle cx="313" cy="155" r="4"/><circle cx="396" cy="172" r="4"/><circle cx="322" cy="190" r="4"/><circle cx="388" cy="207" r="4"/><circle cx="330" cy="224" r="4"/><circle cx="377" cy="241" r="4"/><circle cx="351" cy="258" r="4"/><circle cx="380" cy="276" r="4"/><circle cx="372" cy="293" r="4"/><circle cx="320" cy="310" r="4"/><circle cx="334" cy="327" r="4"/></g>
  <g fill="#fff"><circle cx="478" cy="69" r="4"/><circle cx="482" cy="86" r="4"/><circle cx="482" cy="103" r="4"/><circle cx="495" cy="121" r="4"/><circle cx="478" cy="138" r="4"/><circle cx="420" cy="155" r="4"/><circle cx="499" cy="172" r="4"/><circle cx="424" cy="190" r="4"/><circle cx="487" cy="207" r="4"/><circle cx="428" cy="224" r="4"/><circle cx="475" cy="241" r="4"/><circle cx="445" cy="258" r="4"/><circle cx="466" cy="276" r="4"/><circle cx="457" cy="293" r="4"/><circle cx="403" cy="310" r="4"/><circle cx="415" cy="327" r="4"/></g>
  <g font-size="9" fill="#cfcfcf"><text x="252" y="158">your d..</text><text x="258" y="244">daily li..</text><text x="256" y="261">r frien..</text><text x="36" y="296">How satisfied are you with your capacity for work?</text><text x="36" y="313">How often do you have negative feelings, such as blue mood, d..</text><text x="36" y="330">Do you have access to internet?</text></g>
  <g font-size="8.5" fill="#ccc"><text x="295" y="350">0%</text><text x="406" y="350">50%</text><text x="518" y="350">100%</text></g>
 </svg>
</div>

<!-- DEVELOPMENT CARD -->
<div class="card" style="left:904px;top:582px;width:627px;height:364px;background:#000;border:1px solid #555;border-radius:8px;z-index:5">
 <div class="dv" style="left:262px;top:44px;font-size:9.5px;color:#999">Sort by negatives</div>
 <div class="dv" style="left:394px;top:49px;font-size:9.5px;color:#ddd;font-weight:bold"><span style="color:#4fa3dc">Negative</span> Positive</div>
 <div class="dv" style="left:486px;top:49px;font-size:9.5px;color:#ddd;font-weight:bold">Neutral</div>
 <div class="dv" style="left:538px;top:49px;font-size:9.5px;color:#ddd;font-weight:bold">No Answer</div>
 <svg width="627" height="364" style="position:absolute;left:0;top:0">
  <g stroke="#2a2a2a" stroke-width="1.2">
   <line x1="33" y1="66" x2="593" y2="66"/><line x1="33" y1="84" x2="593" y2="84"/><line x1="33" y1="101" x2="593" y2="101"/><line x1="33" y1="119" x2="593" y2="119"/><line x1="33" y1="136" x2="593" y2="136"/><line x1="33" y1="154" x2="593" y2="154"/><line x1="33" y1="171" x2="593" y2="171"/><line x1="33" y1="188" x2="593" y2="188"/><line x1="33" y1="206" x2="593" y2="206"/><line x1="33" y1="223" x2="593" y2="223"/><line x1="33" y1="241" x2="593" y2="241"/><line x1="33" y1="258" x2="593" y2="258"/><line x1="33" y1="275" x2="593" y2="275"/><line x1="33" y1="293" x2="593" y2="293"/><line x1="33" y1="310" x2="593" y2="310"/><line x1="33" y1="328" x2="593" y2="328"/>
   <line x1="279" y1="66" x2="279" y2="328"/><line x1="593" y1="66" x2="593" y2="328"/>
  </g>
  <g fill="#4fa3dc">
   <rect x="397" y="70" width="40" height="12"/><rect x="407" y="88" width="30" height="12"/><rect x="407" y="105" width="30" height="12"/><rect x="409" y="123" width="28" height="12"/><rect x="411" y="140" width="26" height="12"/><rect x="412" y="158" width="25" height="12"/><rect x="414" y="175" width="23" height="12"/><rect x="414" y="192" width="23" height="12"/><rect x="414" y="210" width="23" height="12"/><rect x="415" y="227" width="22" height="12"/><rect x="416" y="245" width="21" height="12"/><rect x="416" y="262" width="21" height="12"/><rect x="416" y="279" width="21" height="12"/><rect x="417" y="297" width="20" height="12"/><rect x="417" y="314" width="20" height="12"/>
  </g>
  <g fill="#fff">
   <rect x="437" y="70" width="6" height="12"/><rect x="437" y="88" width="4" height="12"/><rect x="437" y="105" width="6" height="12"/><rect x="437" y="123" width="19" height="12"/><rect x="437" y="140" width="8" height="12"/><rect x="437" y="158" width="10" height="12"/><rect x="437" y="175" width="14" height="12"/><rect x="437" y="192" width="20" height="12"/><rect x="437" y="210" width="11" height="12"/><rect x="437" y="227" width="11" height="12"/><rect x="437" y="245" width="4" height="12"/><rect x="437" y="262" width="8" height="12"/><rect x="437" y="279" width="14" height="12"/><rect x="437" y="297" width="6" height="12"/><rect x="437" y="314" width="14" height="12"/>
  </g>
  <g fill="#d6d6d6">
   <rect x="489" y="70" width="1" height="12"/><rect x="489" y="88" width="10" height="12"/><rect x="489" y="105" width="6" height="12"/><rect x="489" y="123" width="1" height="12"/><rect x="489" y="140" width="12" height="12"/><rect x="489" y="158" width="1" height="12"/><rect x="489" y="175" width="1" height="12"/><rect x="489" y="192" width="1" height="12"/><rect x="489" y="210" width="10" height="12"/><rect x="489" y="227" width="10" height="12"/><rect x="489" y="245" width="10" height="12"/><rect x="489" y="262" width="10" height="12"/><rect x="489" y="279" width="10" height="12"/><rect x="489" y="297" width="10" height="12"/><rect x="489" y="314" width="10" height="12"/>
   <rect x="542" y="70" width="3" height="12"/><rect x="542" y="88" width="3" height="12"/><rect x="542" y="105" width="5" height="12"/><rect x="542" y="123" width="3" height="12"/><rect x="542" y="140" width="3" height="12"/><rect x="542" y="158" width="14" height="12"/><rect x="542" y="175" width="10" height="12"/><rect x="542" y="192" width="5" height="12"/><rect x="542" y="210" width="3" height="12"/><rect x="542" y="227" width="5" height="12"/><rect x="542" y="245" width="12" height="12"/><rect x="542" y="262" width="10" height="12"/><rect x="542" y="279" width="3" height="12"/><rect x="542" y="297" width="10" height="12"/><rect x="542" y="314" width="3" height="12"/>
  </g>
 </svg>
 <div class="dv" style="left:38px;top:69px;font-size:9.5px;color:#ddd;line-height:17.45px">Is healthy food expensive?<br>Have you enough money to meet your needs?<br>Do you have access to speech and/or auditory therapy?<br>Is transportation affordable for you?<br>Do you have access to computer/laptop?<br>Are there enough interpreters?<br>Can you afford the healthcare you need?<br>Do you find hearing organizations accessible for you to ..<br>How satisfied are you with transportation?<br>How available to you is the information that you need i..<br>In a crisis like natural disasters or disease, are you conf..<br>Can you communicate with your doctor?<br>If you require communication access at work, can you g..<br>Are interpreters qualified and clear?<br>How satisfied are you with your access to health servic..</div>
 <div class="dv" style="left:295px;top:69px;font-size:9.5px;color:#4fa3dc;line-height:17.45px">81%<br>61%<br>61%<br>56%<br>52%<br>50%<br>47%<br>47%<br>46%<br>45%<br>43%<br>42%<br>42%<br>41%<br>41%</div>
 <div class="dv" style="left:348px;top:69px;font-size:9.5px;color:#ddd;line-height:17.45px">12%<br>9%<br>12%<br>38%<br>16%<br>19%<br>29%<br>40%<br>22%<br>22%<br>9%<br>15%<br>28%<br>13%<br>29%</div>
</div>
<div class="lbl" style="left:876px;top:604px;width:226px;height:59px">Development</div>

</body></html>
